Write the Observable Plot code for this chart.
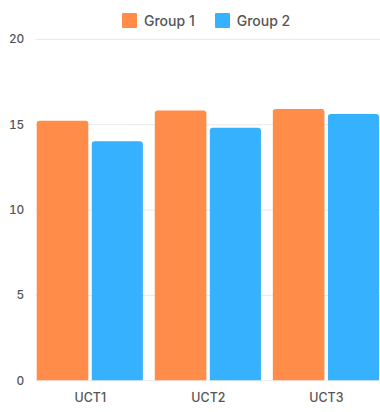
<!DOCTYPE html>
<html>
<head>
<meta charset="utf-8">
<script src="https://cdn.jsdelivr.net/npm/d3@7"></script>
<script src="https://cdn.jsdelivr.net/npm/@observablehq/plot@0.6"></script>
<style>
  html, body { margin: 0; padding: 0; background: #fff; overflow: hidden; }
  body { width: 380px; height: 412px; font-family: Inter, "Noto Sans", sans-serif; }
  .legend { height: 30px; box-sizing: border-box; padding: 11px 0 0 122px; display: flex; align-items: center; font-size: 14px; font-weight: 500; color: #555; }
  .legend .item { display: flex; align-items: center; margin-right: 20px; }
  .legend .sw { width: 15px; height: 15px; margin-right: 7px; border-radius: 1px; }
  .legend .lbl { line-height: 15px; }
  #chart svg { display: block; }
</style>
</head>
<body>
<div class="legend" id="legend"></div>
<div id="chart"></div>
<script>
// Categories and series
const categories = ["UCT1", "UCT2", "UCT3"];
const groups = ["Group 1", "Group 2"];
const group1 = [15.2, 15.8, 15.9];
const group2 = [14.0, 14.8, 15.6];
const colors = ["#FF8C48", "#35B1FE"];
const yTicks = [0, 5, 10, 15, 20];

// Legend above the chart
const legend = document.getElementById("legend");
groups.forEach((g, i) => {
  const item = document.createElement("div");
  item.className = "item";
  const sw = document.createElement("span");
  sw.className = "sw";
  sw.style.background = colors[i];
  const lbl = document.createElement("span");
  lbl.className = "lbl";
  lbl.textContent = g;
  item.append(sw, lbl);
  legend.append(item);
});

const rows1 = categories.map((c, i) => ({category: c, value: group1[i]}));
const rows2 = categories.map((c, i) => ({category: c, value: group2[i]}));

const chart = Plot.plot({
  width: 383,
  height: 382,
  marginLeft: 36,
  marginRight: 0,
  marginTop: 9,
  marginBottom: 29,
  style: {fontFamily: "Inter, 'Noto Sans', sans-serif", fontSize: "12px", fontWeight: 500, color: "#555", background: "#fff"},
  x: {domain: categories, paddingInner: 0.102, paddingOuter: 0, label: null},
  y: {domain: [0, 20], label: null},
  marks: [
    Plot.ruleY(yTicks, {stroke: "#e9e9e9", strokeWidth: 1}),
    Plot.barY(rows1, {x: "category", y: "value", fill: colors[0], insetRight: 55, insetBottom: -5, rx: 3, clip: true}),
    Plot.barY(rows2, {x: "category", y: "value", fill: colors[1], insetLeft: 55.5, insetBottom: -5, rx: 3, clip: true}),
    Plot.axisX({tickSize: 0, tickPadding: 13, fontSize: 12.5, fill: "#555"}),
    Plot.axisY({ticks: yTicks, tickSize: 0, tickPadding: 12, fontSize: 12, fill: "#555"})
  ]
});
document.getElementById("chart").append(chart);
</script>
</body>
</html>
